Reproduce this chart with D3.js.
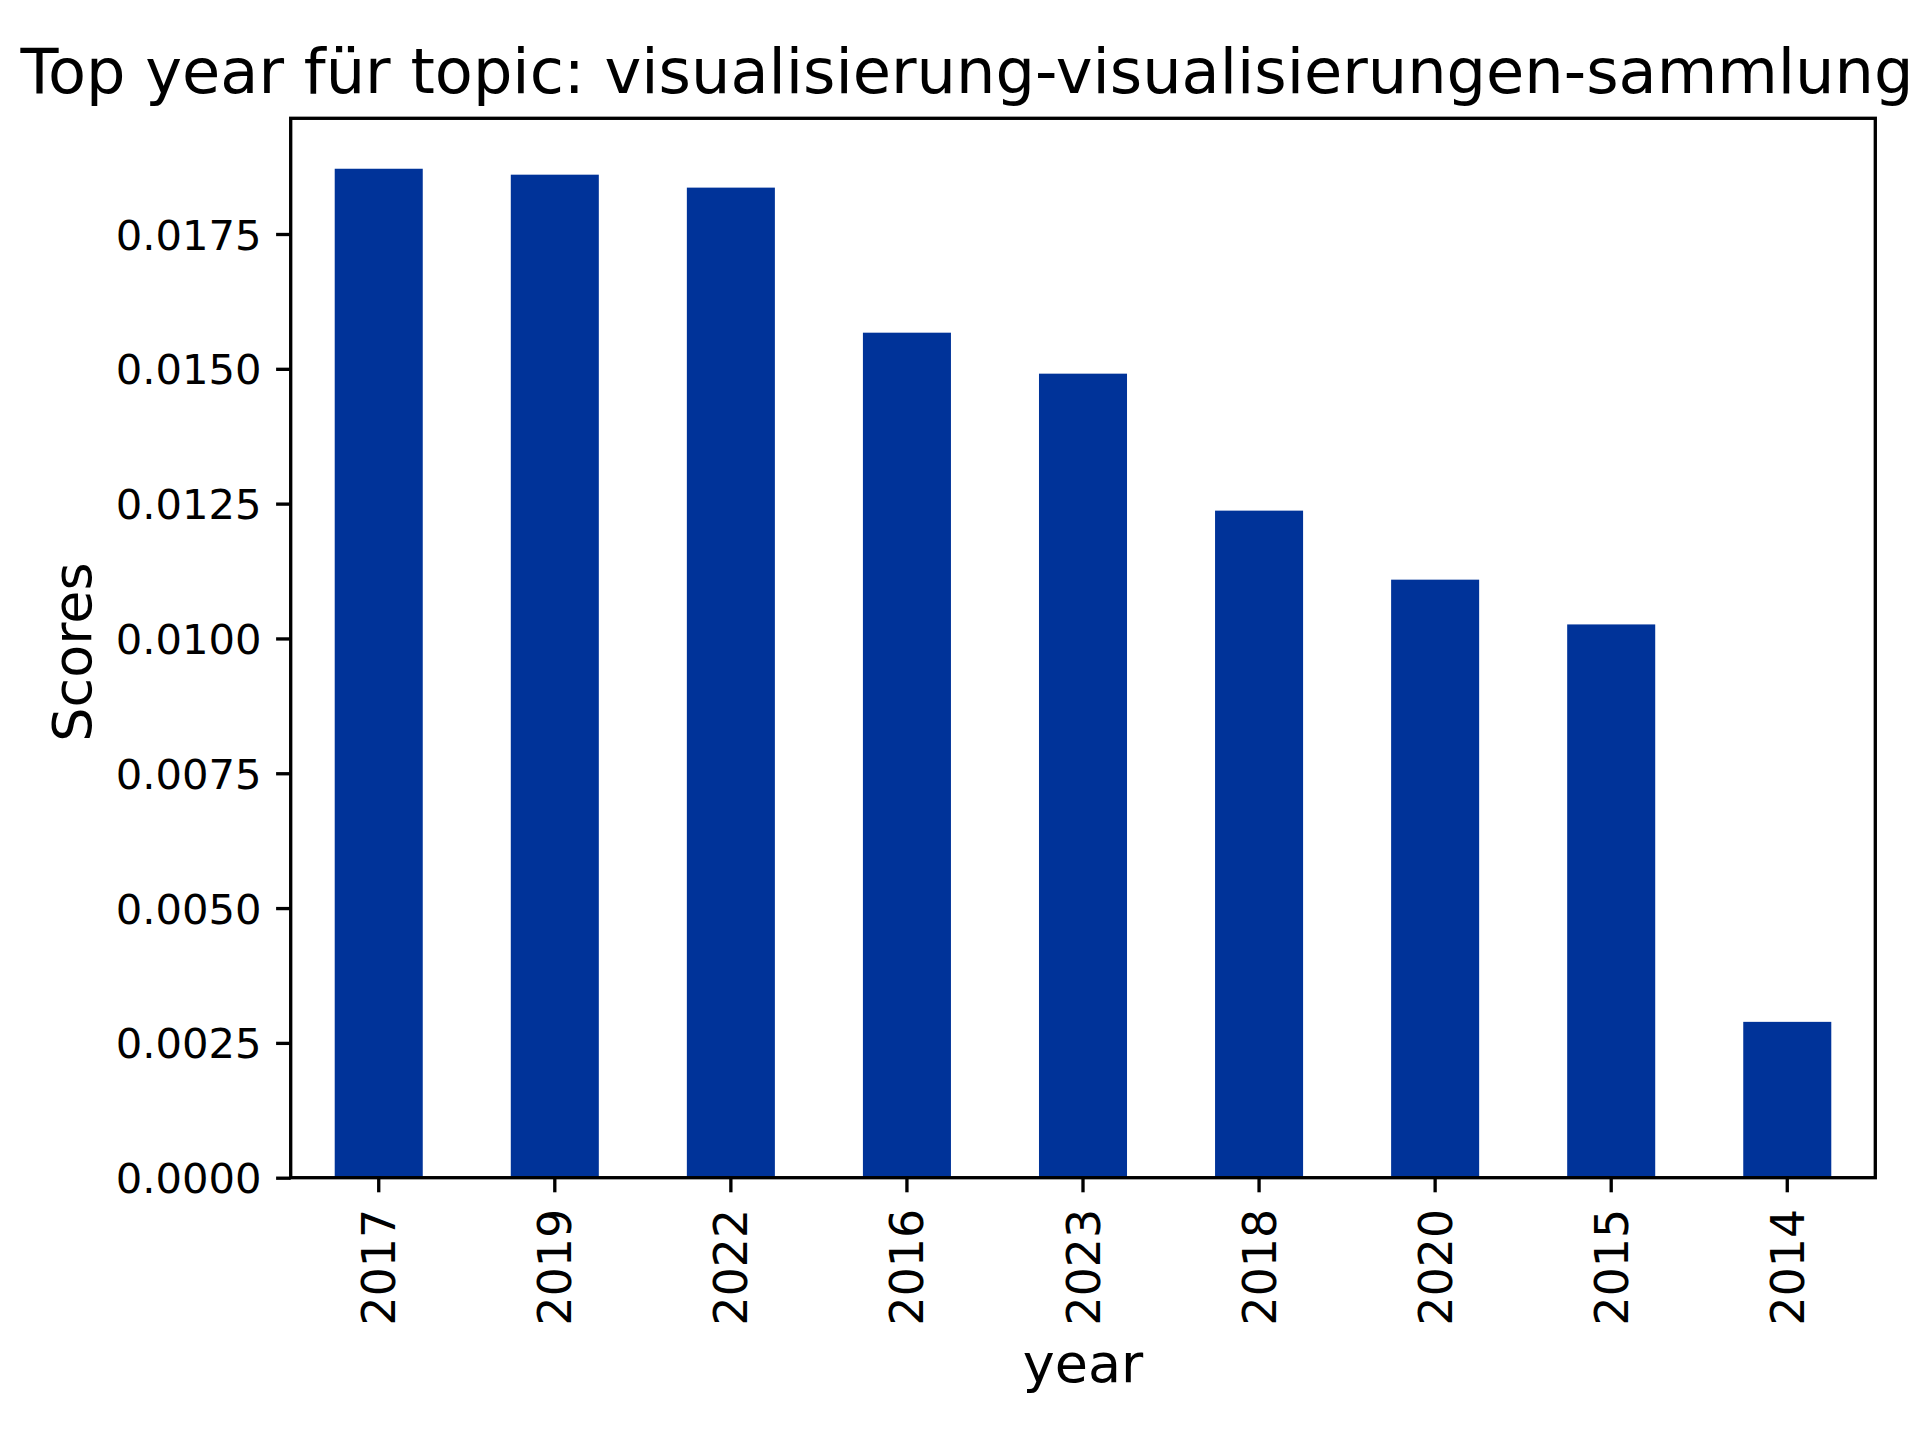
<!DOCTYPE html>
<html>
<head>
<meta charset="utf-8">
<script src="https://cdn.jsdelivr.net/npm/d3@7"></script>
<style>
  html, body { margin: 0; padding: 0; background: #fff; }
  svg { display: block; font-family: "DejaVu Sans", sans-serif; }
</style>
</head>
<body>
<svg id="chart" width="1920" height="1440"></svg>
<script>
// Data
const years = ["2017", "2019", "2022", "2016", "2023", "2018", "2020", "2015", "2014"];
const scores = [0.01871, 0.01860, 0.01836, 0.01567, 0.01491, 0.01237, 0.01109, 0.01026, 0.00289];
const yTicks = [0, 0.0025, 0.005, 0.0075, 0.01, 0.0125, 0.015, 0.0175];
const titleText = "Top year für topic: visualisierung-visualisierungen-sammlung";
const xLabel = "year";
const yLabel = "Scores";

const W = 1920, H = 1440;
const plot = { left: 290.7, right: 1875.3, top: 118.3, bottom: 1177.7 };
const barColor = "#003399";
const lw = 3.33, tickLen = 14.6, tickPad = 14.6;

const svg = d3.select("#chart");
svg.append("rect").attr("width", W).attr("height", H).attr("fill", "#fff");

const x = d3.scaleBand()
  .domain(years)
  .range([plot.left, plot.right])
  .paddingInner(0.5)
  .paddingOuter(0.25);

const y = d3.scaleLinear()
  .domain([0, d3.max(scores) * 1.05])
  .range([plot.bottom, plot.top]);

const data = years.map((yr, i) => ({ year: yr, score: scores[i] }));

// Bars
svg.append("g").selectAll("rect")
  .data(data)
  .join("rect")
  .attr("x", d => x(d.year))
  .attr("y", d => y(d.score))
  .attr("width", x.bandwidth())
  .attr("height", d => y(0) - y(d.score))
  .attr("fill", barColor);

// Y axis
const yAxis = svg.append("g")
  .attr("transform", `translate(${plot.left},0)`)
  .call(d3.axisLeft(y).tickValues(yTicks).tickFormat(d3.format(".4f"))
    .tickSize(tickLen).tickPadding(tickPad).tickSizeOuter(0));
yAxis.select(".domain").remove();
yAxis.selectAll(".tick line").attr("stroke", "#000").attr("stroke-width", lw);
yAxis.selectAll(".tick text")
  .attr("fill", "#000")
  .style("font-size", "41.7px")
  .style("font-family", "'DejaVu Sans', sans-serif")
  .attr("dy", "0.36em");

// X axis
const xAxis = svg.append("g")
  .attr("transform", `translate(0,${plot.bottom})`)
  .call(d3.axisBottom(x).tickSize(tickLen).tickPadding(tickPad).tickSizeOuter(0));
xAxis.select(".domain").remove();
xAxis.selectAll(".tick line").attr("stroke", "#000").attr("stroke-width", lw);
xAxis.selectAll(".tick text")
  .attr("fill", "#000")
  .style("font-size", "45.8px")
  .style("font-family", "'DejaVu Sans', sans-serif")
  .attr("transform", "rotate(-90)")
  .attr("x", -(tickLen + tickPad + 2))
  .attr("y", 0)
  .attr("dy", "0.36em")
  .style("text-anchor", "end");

// Frame (spines)
svg.append("rect")
  .attr("x", plot.left)
  .attr("y", plot.top)
  .attr("width", plot.right - plot.left)
  .attr("height", plot.bottom - plot.top)
  .attr("fill", "none")
  .attr("stroke", "#000")
  .attr("stroke-width", lw)
  .attr("stroke-linecap", "square");

// Title
svg.append("text")
  .attr("x", 967)
  .attr("y", 93.3)
  .attr("text-anchor", "middle")
  .style("font-size", "62.2px")
  .attr("fill", "#000")
  .text(titleText);

// Axis labels
svg.append("text")
  .attr("x", (plot.left + plot.right) / 2)
  .attr("y", 1381.7)
  .attr("text-anchor", "middle")
  .style("font-size", "54px")
  .attr("fill", "#000")
  .text(xLabel);

svg.append("text")
  .attr("transform", `translate(91,${(plot.top + plot.bottom) / 2 + 4}) rotate(-90)`)
  .attr("text-anchor", "middle")
  .style("font-size", "54px")
  .attr("fill", "#000")
  .text(yLabel);
</script>
</body>
</html>
